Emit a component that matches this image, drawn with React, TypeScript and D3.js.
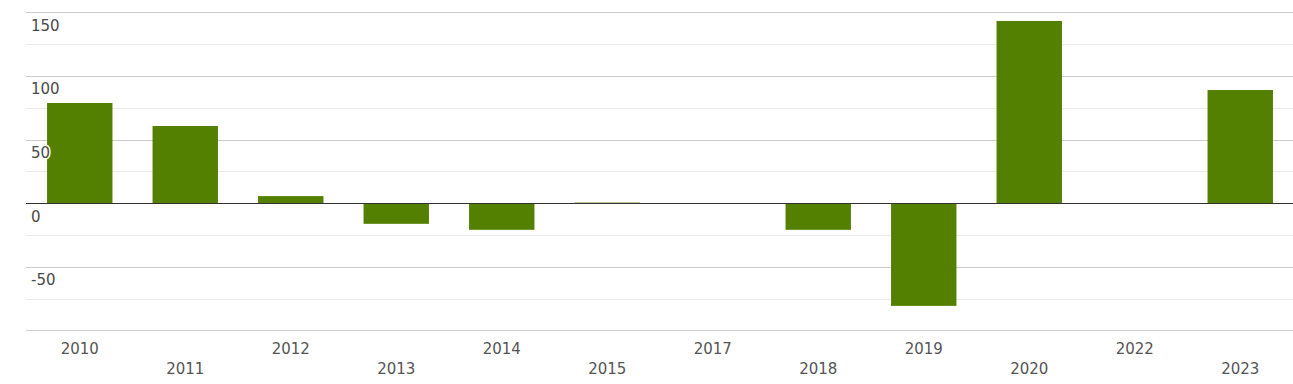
import React, { useEffect, useRef } from 'react';
import * as d3 from 'd3';

const years = ['2010', '2011', '2012', '2013', '2014', '2015', '2017', '2018', '2019', '2020', '2022', '2023'];
const values = [78.7, 60.6, 5.5, -16.3, -21, 0.4, 0, -21, -80.8, 143.2, 0, 88.9];
const majorTicks = [150, 100, 50, 0, -50, -100];
const minorTicks = [125, 75, 25, -25, -75];

const WIDTH = 1293;
const HEIGHT = 384;
const BAR_COLOR = '#548002';

const App: React.FC = () => {
  const svgRef = useRef<SVGSVGElement>(null);

  useEffect(() => {
    if (!svgRef.current) return;
    document.body.style.margin = '0';

    const svg = d3.select(svgRef.current);
    svg.selectAll('*').remove();

    const x = d3.scaleBand<string>()
      .domain(years)
      .range([27, 1293])
      .paddingInner(0.38)
      .paddingOuter(0.19);

    const y = d3.scaleLinear()
      .domain([-100, 150])
      .range([330.3, 12.3]);

    // minor grid
    svg.append('g')
      .selectAll('line')
      .data(minorTicks)
      .join('line')
      .attr('x1', 26)
      .attr('x2', 1293)
      .attr('y1', d => Math.round(y(d)) + 0.5)
      .attr('y2', d => Math.round(y(d)) + 0.5)
      .attr('stroke', '#ebebeb')
      .attr('stroke-width', 1);

    // major grid
    svg.append('g')
      .selectAll('line')
      .data(majorTicks.filter(d => d !== 0))
      .join('line')
      .attr('x1', 26)
      .attr('x2', 1293)
      .attr('y1', d => Math.round(y(d)) + 0.5)
      .attr('y2', d => Math.round(y(d)) + 0.5)
      .attr('stroke', '#cccccc')
      .attr('stroke-width', 1);

    // bars
    svg.append('g')
      .selectAll('rect')
      .data(values)
      .join('rect')
      .attr('x', (_, i) => x(years[i]) ?? 0)
      .attr('width', x.bandwidth())
      .attr('y', d => y(Math.max(0, d)))
      .attr('height', d => Math.abs(y(d) - y(0)))
      .attr('fill', BAR_COLOR);

    // zero line
    svg.append('line')
      .attr('x1', 26)
      .attr('x2', 1293)
      .attr('y1', Math.round(y(0)) + 0.5)
      .attr('y2', Math.round(y(0)) + 0.5)
      .attr('stroke', '#333333')
      .attr('stroke-width', 1);

    // y tick labels, under their grid line, with a white halo
    svg.append('g')
      .selectAll('text')
      .data(majorTicks.filter(d => d !== -100))
      .join('text')
      .attr('x', 31)
      .attr('y', d => y(d) + 18.5)
      .attr('font-family', 'DejaVu Sans, sans-serif')
      .attr('font-size', 15)
      .attr('fill', '#4a4a4a')
      .attr('stroke', '#ffffff')
      .attr('stroke-width', 3)
      .attr('stroke-linejoin', 'round')
      .attr('paint-order', 'stroke')
      .text(d => String(d));

    // x labels, staggered over two rows
    svg.append('g')
      .selectAll('text')
      .data(years)
      .join('text')
      .attr('x', d => (x(d) ?? 0) + x.bandwidth() / 2)
      .attr('y', (_, i) => (i % 2 === 0 ? 353.5 : 373.5))
      .attr('text-anchor', 'middle')
      .attr('font-family', 'DejaVu Sans, sans-serif')
      .attr('font-size', 15)
      .attr('fill', '#555555')
      .text(d => d);
  }, []);

  return <svg ref={svgRef} width={WIDTH} height={HEIGHT} style={{ display: 'block' }} />;
};

export default App;
